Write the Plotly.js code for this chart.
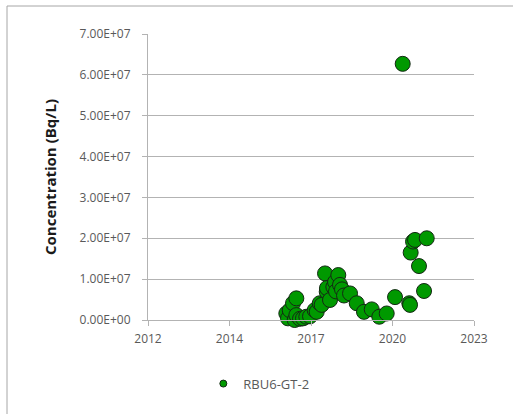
<!DOCTYPE html>
<html>
<head>
<meta charset="utf-8">
<script src="https://cdn.plot.ly/plotly-3.0.1.min.js"></script>
<style>
html,body{margin:0;padding:0;background:#fff;}
#chart{width:513px;height:414px;}
</style>
</head>
<body>
<div id="chart"></div>
<script>
// Sample dates and concentrations (Bq/L) for RBU6-GT-2
const sampleDates = [
  '2016-11-23','2016-12-14','2017-01-04','2017-02-13','2017-03-26','2017-03-06',
  '2017-03-26','2017-05-10','2017-06-16','2017-07-26','2017-09-10','2017-11-06',
  '2017-12-01','2018-01-07','2018-01-31','2018-03-13','2018-04-03','2018-04-06',
  '2018-05-13','2018-06-23','2018-07-14','2018-07-26','2018-08-23','2018-09-13',
  '2018-10-07','2018-11-01','2019-01-14','2019-04-06','2019-07-04','2019-10-07',
  '2020-01-08','2020-04-08','2020-07-19','2020-10-21','2021-01-10','2021-01-19',
  '2021-01-27','2021-02-25','2021-03-21','2021-05-09','2021-07-10','2021-08-12'
];
const concentration = [
  1.6e6, 0.4e6, 2.4e6, 4.1e6, 5.3e6, 0.0e6,
  1.2e6, 0.3e6, 0.4e6, 0.8e6, 0.9e6, 2.4e6,
  2.0e6, 4.1e6, 3.7e6, 11.4e6, 6.9e6, 7.8e6,
  4.9e6, 8.1e6, 9.3e6, 7.0e6, 11.0e6, 8.6e6,
  7.5e6, 6.0e6, 6.5e6, 4.1e6, 2.0e6, 2.6e6,
  0.8e6, 1.6e6, 5.6e6, 62.7e6, 4.1e6, 3.7e6,
  16.5e6, 19.2e6, 19.6e6, 13.2e6, 7.1e6, 20.0e6
];
const seriesName = 'RBU6-GT-2';

// Axis ticks (Excel date serials 41000..45000, labelled by year)
const xTickDates = ['2012-04-01','2014-12-27','2017-09-22','2020-06-18','2023-03-15'];
const xTickLabels = ['2012','2014','2017','2020','2023'];
const yTickVals = [0,1e7,2e7,3e7,4e7,5e7,6e7,7e7];
const yTickLabels = ['0.00E+00','1.00E+07','2.00E+07','3.00E+07','4.00E+07','5.00E+07','6.00E+07','7.00E+07'];

const green = '#009900';
const edge = '#142814';
const gray = '#b3b3b3';
const txt = '#595959';

const traces = [
  {
    type: 'scatter', mode: 'markers', x: sampleDates, y: concentration,
    name: seriesName, showlegend: false,
    marker: {color: green, size: 15, line: {color: edge, width: 1}},
    cliponaxis: false
  },
  {
    type: 'scatter', mode: 'markers', x: [null], y: [null],
    name: seriesName, showlegend: true,
    marker: {color: green, size: 7, line: {color: edge, width: 1}}
  }
];

const layout = {
  width: 513, height: 414,
  margin: {l: 148, r: 39, t: 34, b: 94},
  paper_bgcolor: '#ffffff', plot_bgcolor: '#ffffff',
  font: {family: 'Open Sans, sans-serif', size: 11, color: txt},
  showlegend: true,
  legend: {
    orientation: 'h', x: 0.34, xanchor: 'center', y: -0.17, yanchor: 'top',
    font: {family: 'Open Sans, sans-serif', size: 13, color: txt},
    itemwidth: 30, bgcolor: 'rgba(0,0,0,0)'
  },
  xaxis: {
    type: 'date', range: ['2012-04-01', '2023-03-15'],
    tickmode: 'array', tickvals: xTickDates, ticktext: xTickLabels,
    showgrid: false, zeroline: false,
    showline: true, linecolor: gray, linewidth: 1,
    ticks: 'outside', ticklen: 5, tickcolor: gray,
    ticklabelstandoff: 3,
    tickfont: {size: 12, color: txt}
  },
  yaxis: {
    range: [0, 7e7],
    tickmode: 'array', tickvals: yTickVals, ticktext: yTickLabels,
    showgrid: true, gridcolor: gray, gridwidth: 1, zeroline: false,
    showline: true, linecolor: gray, linewidth: 1,
    ticks: 'outside', ticklen: 5, tickcolor: gray,
    ticklabelstandoff: 9,
    tickfont: {size: 12, color: txt},
    title: {text: 'Concentration (Bq/L)', font: {family: 'Open Sans, sans-serif', size: 15, color: '#1a1a1a', weight: 'bold'}, standoff: 19}
  },
  shapes: [{
    type: 'rect', xref: 'paper', yref: 'paper',
    x0: -0.4325, x1: 1.3, y0: -0.5, y1: 1.0979,
    line: {color: '#a6a6a6', width: 1}, fillcolor: 'rgba(0,0,0,0)', layer: 'below'
  }]
};

Plotly.newPlot('chart', traces, layout, {displayModeBar: false, staticPlot: true});
</script>
</body>
</html>
